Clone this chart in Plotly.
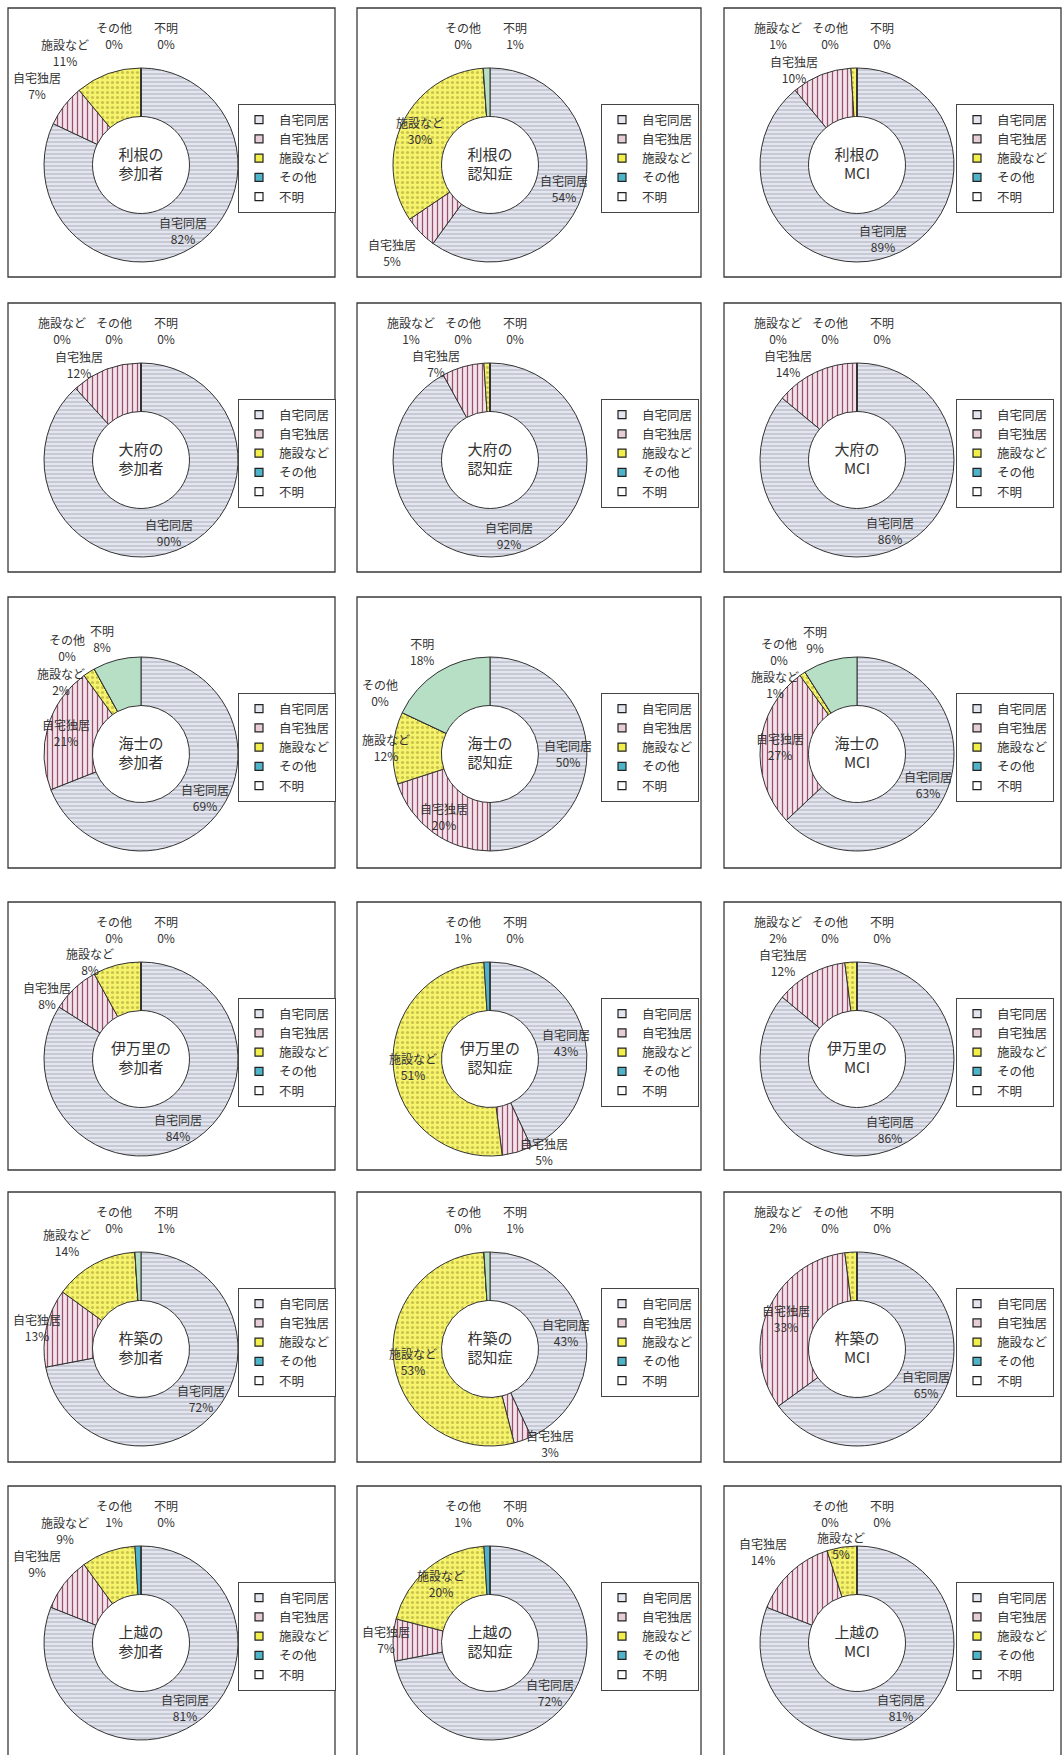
import math
import plotly.graph_objects as go

W, H = 1062, 1755
FONT = "Noto Sans CJK JP, Noto Sans, sans-serif"
TXT = "#333333"

# ---------------- data ----------------
categories = ["自宅同居", "自宅独居", "施設など", "その他", "不明"]
regions = ["利根", "大府", "海士", "伊万里", "杵築", "上越"]
groups = ["参加者", "認知症", "MCI"]

tone_participants = [82, 7, 11, 0, 0]
tone_dementia = [54, 5, 30, 0, 1]
tone_mci = [89, 10, 1, 0, 0]
obu_participants = [90, 12, 0, 0, 0]
obu_dementia = [92, 7, 1, 0, 0]
obu_mci = [86, 14, 0, 0, 0]
ama_participants = [69, 21, 2, 0, 8]
ama_dementia = [50, 20, 12, 0, 18]
ama_mci = [63, 27, 1, 0, 9]
imari_participants = [84, 8, 8, 0, 0]
imari_dementia = [43, 5, 51, 1, 0]
imari_mci = [86, 12, 2, 0, 0]
kitsuki_participants = [72, 13, 14, 0, 1]
kitsuki_dementia = [43, 3, 53, 0, 1]
kitsuki_mci = [65, 33, 2, 0, 0]
joetsu_participants = [81, 9, 9, 1, 0]
joetsu_dementia = [72, 7, 20, 1, 0]
joetsu_mci = [81, 14, 5, 0, 0]

values_grid = [
    [tone_participants, tone_dementia, tone_mci],
    [obu_participants, obu_dementia, obu_mci],
    [ama_participants, ama_dementia, ama_mci],
    [imari_participants, imari_dementia, imari_mci],
    [kitsuki_participants, kitsuki_dementia, kitsuki_mci],
    [joetsu_participants, joetsu_dementia, joetsu_mci],
]

# ---------------- styles / layout ----------------
slice_bg = ["#e4e6ef", "#f1e3e9", "#f6f46c", "#4fb4c9", "#b6dfc6"]
slice_fg = ["#a2a5b3", "#9a4f6d", "#c9c24c", "#4fb4c9", "#b6dfc6"]
legend_fill = ["#e4e6ef", "#e6cdd8", "#f2ee4a", "#4fb4c9", "#ffffff"]
slice_shape = ["-", "|", ".", "", ""]
slice_size = [4, 5, 5, 8, 8]
slice_solid = [0.22, 0.25, 0.3, 0.3, 0.3]

col_left = [8, 357, 724]
col_right = [335, 701, 1061]
legend_dx = [230, 244, 232]
row_top = [8, 303, 597, 902, 1192, 1486]
row_bottom = [277, 572, 868, 1170, 1462, 1760]
R = 97
LFS = 12  # label font size


def px_x(x):
    return x / W


def px_y(y):
    return 1 - y / H


def mid_angles(vals):
    total = float(sum(vals))
    cum = 0.0
    mids = []
    for v in vals:
        mids.append((cum + v / 2.0) / total * 360.0)
        cum += v
    return mids


def box_of(x, y, xa, ya, w, h):
    x0 = x if xa == "left" else (x - w if xa == "right" else x - w / 2)
    y0 = y if ya == "top" else (y - h if ya == "bottom" else y - h / 2)
    return [x0, y0, x0 + w, y0 + h]


def overlap(a, b, m=1):
    return a[0] < b[2] + m and b[0] < a[2] + m and a[1] < b[3] + m and b[1] < a[3] + m


def inside_lim(b, lim):
    return b[0] >= lim[0] and b[1] >= lim[1] and b[2] <= lim[2] and b[3] <= lim[3]


def place_labels(vals, cx, cy, lim):
    mids = mid_angles(vals)
    res = []
    placed = []
    sizes = []
    for i, v in enumerate(vals):
        w = max(len(categories[i]) * LFS, len(f"{v}%") * LFS * 0.6) + 4
        h = 2 * LFS * 1.3
        sizes.append((w, h))
    top = [i for i, v in enumerate(vals) if v < 3 and mids[i] >= 340]
    n = len(top)
    for k, i in enumerate(top):
        x = cx + 25 - (n - 1 - k) * 52
        y = cy - R - 14
        res.append((i, x, y, "center", "bottom"))
        placed.append(box_of(x, y, "center", "bottom", *sizes[i]))
    inside = [i for i, v in enumerate(vals) if v >= 20 and i not in top]
    for i in inside:
        a = math.radians(mids[i])
        r = 0.8 * R
        x = cx + r * math.sin(a)
        y = cy - r * math.cos(a)
        res.append((i, x, y, "center", "middle"))
        placed.append(box_of(x, y, "center", "middle", *sizes[i]))
    rest = [i for i in range(len(vals)) if i not in top and i not in inside]
    left = sorted([i for i in rest if mids[i] > 180], key=lambda i: -mids[i])
    right = sorted([i for i in rest if mids[i] <= 180], key=lambda i: mids[i])
    offsets = []
    for dx in range(0, 62, 2):
        for dy in range(-40, 62, 2):
            offsets.append((dx + 1.3 * abs(dy), dx, dy))
    offsets.sort()
    for i in right + left:
        a = math.radians(mids[i])
        s, c = math.sin(a), math.cos(a)
        r = 1.03 * R
        x = cx + r * s
        y = cy - r * c
        xa = "right" if s < -0.2 else ("left" if s > 0.2 else "center")
        ya = "bottom" if c > 0.35 else ("top" if c < -0.35 else "middle")
        outward = -1 if s < 0 else 1
        w, h = sizes[i]
        chosen = None
        for _, dx, dy in offsets:
            xx, yy = x + outward * dx, y + dy
            b = box_of(xx, yy, xa, ya, w, h)
            if inside_lim(b, lim) and not any(overlap(b, p) for p in placed):
                chosen = (xx, yy, b)
                break
        if chosen is None:
            b = box_of(x, y, xa, ya, w, h)
            if b[3] > lim[3]:
                y -= b[3] - lim[3]
            if b[0] < lim[0]:
                x += lim[0] - b[0]
            chosen = (x, y, box_of(x, y, xa, ya, w, h))
        xx, yy, b = chosen
        res.append((i, xx, yy, xa, ya))
        placed.append(b)
    return res


fig = go.Figure()
shapes = []
annotations = []
legends = {}
n = 0
for ri, region in enumerate(regions):
    for ci, group in enumerate(groups):
        n += 1
        vals = values_grid[ri][ci]
        L, Rt = col_left[ci], col_right[ci]
        T, B = row_top[ri], row_bottom[ri]
        cx, cy = L + 133, T + 157
        lname = "legend" if n == 1 else f"legend{n}"
        fig.add_trace(go.Pie(
            labels=categories,
            values=vals,
            sort=False,
            direction="clockwise",
            rotation=0,
            hole=0.5,
            textinfo="none",
            hoverinfo="label+value",
            marker=dict(
                colors=slice_bg,
                line=dict(color="#333333", width=1),
                pattern=dict(shape=slice_shape, fgcolor=slice_fg, bgcolor=slice_bg,
                             size=slice_size, solidity=slice_solid, fillmode="replace"),
            ),
            domain=dict(x=[px_x(cx - R), px_x(cx + R)], y=[px_y(cy + R), px_y(cy - R)]),
            title=dict(text=f"{region}の<br>{group}", position="middle center",
                       font=dict(size=15, color=TXT, family=FONT)),
            showlegend=False,
        ))
        # per-chart legend entries
        for k, cat in enumerate(categories):
            fig.add_trace(go.Scatter(
                x=[None], y=[None], mode="markers", name=cat,
                marker=dict(symbol="square", size=8, color=legend_fill[k],
                            line=dict(color="#222222", width=1.2)),
                legend=lname, showlegend=True, hoverinfo="skip",
            ))
        legends[lname] = dict(
            x=px_x(L + legend_dx[ci]), y=px_y(T + 96), xanchor="left", yanchor="top",
            bgcolor="white", bordercolor="#444444", borderwidth=1,
            font=dict(size=12.5, color=TXT, family=FONT),
            itemwidth=30, tracegroupgap=0, itemclick=False, itemdoubleclick=False,
        )
        shapes.append(dict(type="rect", xref="paper", yref="paper",
                           x0=px_x(L), x1=px_x(Rt), y0=px_y(B), y1=px_y(T),
                           line=dict(color="#3a3a3a", width=1.3), fillcolor="rgba(0,0,0,0)",
                           layer="above"))
        lim = (L + 3, T + 4, L + legend_dx[ci] - 2, B - 4)
        for (i, x, y, xa, ya) in place_labels(vals, cx, cy, lim):
            annotations.append(dict(
                x=px_x(x), y=px_y(y), xref="paper", yref="paper",
                xanchor=xa, yanchor=ya, showarrow=False, align="center",
                text=f"{categories[i]}<br>{vals[i]}%",
                font=dict(size=LFS, color=TXT, family=FONT),
            ))

fig.update_layout(
    width=W, height=H, autosize=False,
    margin=dict(l=0, r=0, t=0, b=0),
    paper_bgcolor="white", plot_bgcolor="rgba(0,0,0,0)",
    font=dict(family=FONT, color=TXT),
    xaxis=dict(visible=False), yaxis=dict(visible=False),
    shapes=shapes, annotations=annotations,
    **legends,
)

fig.write_html("out.html", config={"displayModeBar": False},
               post_script="document.body.style.margin='0';")
